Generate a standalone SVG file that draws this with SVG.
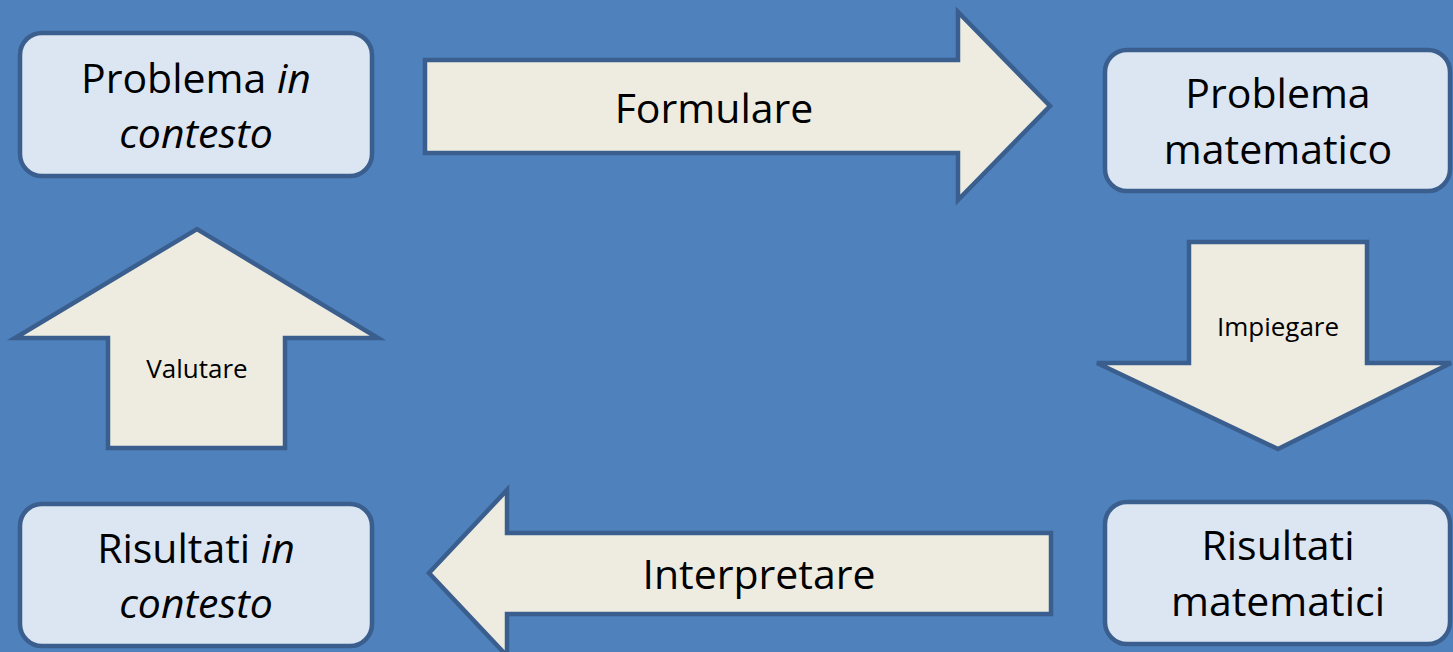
<svg xmlns="http://www.w3.org/2000/svg" width="1453" height="652" viewBox="0 0 1453 652">
<style>
.box{fill:#DCE6F2;stroke:#3A5F8E;stroke-width:4.5}
.arr{fill:#EEECE1;stroke:#3A5F8E;stroke-width:4.5;stroke-linejoin:miter}
text{font-family:"Open Sans","Liberation Sans",sans-serif;fill:#000;text-anchor:middle}
.big{font-size:41px}
.small{font-size:26px}
.it{font-style:italic}
</style>
<rect x="0" y="0" width="1453" height="652" fill="#4F81BD"/>
<g id="connectors">
  <g id="formulare">
    <polygon class="arr" points="425,60 958,60 958,12 1050,106 958,200 958,153 425,153"/>
    <text class="big" x="714" y="123">Formulare</text>
  </g>
  <g id="impiegare">
    <polygon class="arr" points="1189,242 1367,242 1367,363 1451,363 1278,449 1097,363 1189,363"/>
    <text class="small" x="1278" y="336">Impiegare</text>
  </g>
  <g id="interpretare">
    <polygon class="arr" points="1051,533 507,533 507,490 429,573 507,656 507,614 1051,614"/>
    <text class="big" x="759" y="589">Interpretare</text>
  </g>
  <g id="valutare">
    <polygon class="arr" points="108,448 108,338 15,338 197,229 378,338 285,338 285,448"/>
    <text class="small" x="197" y="378">Valutare</text>
  </g>
</g>
<g id="node-problema-contesto">
  <rect class="box" x="20" y="33" width="352" height="143" rx="22"/>
  <text class="big" x="196" y="93">Problema <tspan class="it">in</tspan></text>
  <text class="big it" x="196" y="148">contesto</text>
</g>
<g id="node-problema-matematico">
  <rect class="box" x="1105" y="50" width="345" height="141" rx="22"/>
  <text class="big" x="1278" y="108">Problema</text>
  <text class="big" x="1278" y="164">matematico</text>
</g>
<g id="node-risultati-contesto">
  <rect class="box" x="20" y="504" width="352" height="142" rx="22"/>
  <text class="big" x="196" y="563">Risultati <tspan class="it">in</tspan></text>
  <text class="big it" x="196" y="618">contesto</text>
</g>
<g id="node-risultati-matematici">
  <rect class="box" x="1105" y="502" width="345" height="142" rx="22"/>
  <text class="big" x="1278" y="560">Risultati</text>
  <text class="big" x="1278" y="616">matematici</text>
</g>
</svg>
